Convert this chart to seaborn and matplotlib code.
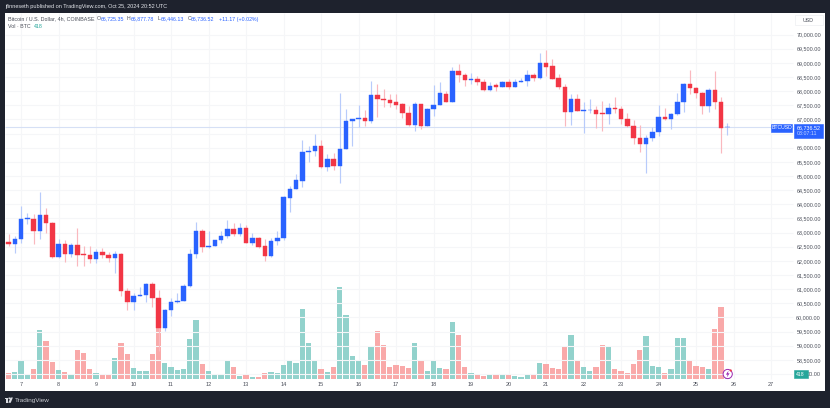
"""
plot.py
-------
BTCUSD 4h candles with volume, TradingView snapshot style.
"""

import numpy as np
import pandas as pd
import matplotlib
matplotlib.use("Agg")
import matplotlib.pyplot as plt
from matplotlib.patches import Circle, Polygon, Rectangle
import seaborn as sns

# ── Data ──────────────────────────────────────────────────────────────────────
open_px = [62684, 62602, 62779, 63480, 63497, 63073, 63615, 63344, 62154, 62590, 62260, 62578,
           62248, 62190, 62083, 62319, 62201, 62119, 62248, 60941, 60552, 60776, 60811, 61165,
           60705, 59633, 60246, 60529, 60599, 61105, 62237, 63061, 62484, 62519, 62720, 62885,
           63132, 62943, 63167, 62649, 62802, 62508, 62178, 62696, 62814, 64228, 64546, 64840,
           65830, 65889, 66054, 65335, 65606, 65347, 65960, 66949, 67008, 67055, 66926, 67856,
           67715, 67691, 67597, 67550, 67243, 66796, 67538, 66784, 67373, 67491, 67915, 67620,
           68704, 68575, 68386, 68410, 68315, 68033, 68198, 68162, 68327, 68150, 68327, 68374,
           68586, 68457, 68987, 68881, 68457, 68162, 67267, 67715, 67314, 67330, 67326, 67232,
           67196, 67408, 67361, 67008, 66772, 66348, 66113, 66360, 66572, 67102, 67020, 67173,
           67608, 68245, 68127, 67939, 67467, 68033, 67632, 66725]
high_px = [62955, 62885, 63956, 63697, 63662, 64451, 63874, 63367, 62779, 62743, 62637, 63179,
           62531, 62519, 62402, 62472, 62296, 62354, 62272, 61047, 60870, 61070, 61212, 61247,
           60953, 60305, 60694, 60858, 61200, 62402, 63379, 63132, 63038, 62743, 63050, 63462,
           63356, 63332, 63250, 62979, 62861, 62779, 62814, 63073, 64310, 64640, 65076, 66278,
           66042, 66478, 66289, 65783, 65795, 67927, 67350, 67020, 67526, 67326, 68363, 68268,
           68068, 67915, 67915, 67573, 67467, 67620, 67550, 67397, 68198, 68327, 67986, 68857,
           68975, 68657, 68645, 68516, 68433, 68315, 68292, 68351, 68410, 68410, 68457, 68728,
           68645, 69340, 69470, 69140, 68610, 68257, 67903, 67880, 67632, 67726, 67456, 67644,
           67585, 67774, 67467, 67232, 66961, 66819, 66466, 66725, 67526, 67385, 67232, 67927,
           68280, 68763, 68150, 67962, 68127, 68716, 67809, 66877]
low_px = [62519, 62272, 62625, 63297, 62590, 62790, 63002, 62095, 62119, 61954, 62142, 61836,
          61813, 61919, 61942, 62095, 61977, 61565, 60752, 60246, 60281, 60764, 60540, 60364,
          58832, 59504, 60034, 60517, 60588, 61070, 62095, 62307, 62460, 62508, 62625, 62814,
          62885, 62885, 62625, 62578, 62472, 62013, 62142, 62566, 62750, 63721, 64546, 64628,
          65488, 65700, 65288, 65170, 65229, 64746, 65959, 66077, 66714, 66749, 66890, 67102,
          67455, 67444, 67350, 67043, 66760, 66607, 66655, 66784, 67114, 67491, 67609, 67597,
          68339, 68174, 68268, 68209, 68021, 68021, 67997, 68139, 68068, 68139, 68315, 68186,
          68374, 68433, 68551, 68421, 68080, 66784, 66819, 67291, 66513, 67220, 66702, 66584,
          66843, 67220, 66831, 66725, 66124, 65842, 65123, 66219, 66419, 66984, 66643, 67149,
          67255, 67903, 67762, 67184, 67255, 67373, 65806, 66446]
close_px = [62602, 62779, 63485, 63500, 63073, 63615, 63332, 62154, 62590, 62260, 62578, 62225,
            62190, 62083, 62319, 62190, 62119, 62237, 60929, 60552, 60776, 60811, 61165, 60694,
            59633, 60258, 60540, 60599, 61117, 62237, 63061, 62484, 62531, 62720, 62885, 63132,
            62943, 63167, 62649, 62814, 62496, 62178, 62708, 62814, 64251, 64546, 64852, 65842,
            65889, 66054, 65335, 65606, 65347, 65971, 66949, 67020, 67055, 66926, 67856, 67703,
            67680, 67573, 67526, 67232, 66796, 67538, 66784, 67373, 67503, 67927, 67632, 68704,
            68563, 68386, 68421, 68315, 68033, 68186, 68162, 68327, 68150, 68327, 68374, 68575,
            68457, 68987, 68869, 68433, 68150, 67267, 67715, 67314, 67338, 67338, 67208, 67208,
            67408, 67361, 67000, 66760, 66325, 66113, 66360, 66572, 67102, 67008, 67173, 67620,
            68245, 68115, 67927, 67467, 68033, 67620, 66690, 66737]
volume = [500, 575, 1350, 375, 800, 3675, 2875, 1275, 675, 550, 325, 2200,
          1950, 750, 500, 300, 425, 1625, 2700, 1875, 875, 600, 625, 1925,
          4000, 1250, 950, 725, 800, 3025, 4425, 1175, 600, 325, 325, 1425,
          950, 250, 375, 150, 175, 500, 575, 475, 1075, 1375, 1250, 5275,
          2750, 1425, 800, 575, 900, 6900, 4825, 1750, 1450, 1050, 2475, 3600,
          2550, 950, 1050, 1000, 850, 2750, 1450, 625, 1350, 850, 750, 4275,
          3300, 900, 500, 300, 225, 325, 300, 300, 300, 250, 150, 400,
          325, 1250, 1175, 825, 775, 2400, 3350, 1375, 925, 625, 925, 2575,
          2425, 800, 600, 500, 1150, 2225, 3275, 975, 900, 500, 775, 3075,
          3100, 1350, 975, 950, 800, 3750, 5400, 418]

day_labels = [str(d) for d in range(7, 28)]
price_ticks = list(range(58000, 70001, 500))
last_price = 66736.52

# ── Colours ───────────────────────────────────────────────────────────────────
BG = "#1E222D"
BLUE = "#2962FF"
RED = "#F23645"
BLUE_WICK = "#B8CBFB"
RED_WICK = "#FAB8BE"
VOL_UP = "#92D2CC"
VOL_DOWN = "#F9A9A9"
GRID = "#F5F6F8"
TEXT = "#4A4E59"

W, H = 830, 408


def fx(px):
    return px / W


def fy(py):
    return 1 - py / H


sns.set_theme(style="white")
plt.rcParams["font.family"] = ["Liberation Sans", "DejaVu Sans"]

df = pd.DataFrame({"idx": np.arange(len(open_px)), "open": open_px, "high": high_px,
                   "low": low_px, "close": close_px, "volume": volume})
df["dir"] = np.where(df["close"] >= df["open"], "up", "down")

fig = plt.figure(figsize=(W / 100, H / 100), dpi=100, facecolor=BG)
ax_vol = fig.add_axes([fx(5), fy(391), fx(820), 378 / H], facecolor="white")

# ── Volume ────────────────────────────────────────────────────────────────────
sns.barplot(data=df, x="idx", y="volume", hue="dir", native_scale=True, dodge=False,
            palette={"up": VOL_UP, "down": VOL_DOWN}, width=0.86, saturation=1,
            errorbar=None, legend=False, linewidth=0, ax=ax_vol)
ax_vol.set_xlim(-0.56, 130.64)
ax_vol.set_ylim(-877, 27472)
ax_vol.set_xlabel("")
ax_vol.set_ylabel("")
ax_vol.set_yticks([])
day_ticks = [2 + 6 * k for k in range(len(day_labels))]
ax_vol.set_xticks(day_ticks, day_labels)
ax_vol.tick_params(axis="x", length=0, pad=-6.2, labelsize=4, labelcolor=TEXT)

# ── Candles ───────────────────────────────────────────────────────────────────
ax = ax_vol.twinx()
ax.set_ylim(57401, 70760)
ax.patch.set_visible(False)
# the price tags hide the 66,500 label and most of the 58,000 one, as in the snapshot
tick_text = {66500: "", 58000: "00.00"}
ax.set_yticks(price_ticks, [tick_text.get(p, f"{p:,.2f}") for p in price_ticks])
ax.tick_params(axis="y", length=0, pad=-2.9, labelsize=3.9, labelcolor=TEXT)
plt.setp(ax.get_yticklabels(), ha="right")

ax_vol.vlines(day_ticks, 0.031, 1, colors=GRID, lw=0.8, zorder=0,
              transform=ax_vol.get_xaxis_transform())
ax.hlines(price_ticks, 0, 0.961, colors=GRID, lw=0.8, zorder=0,
          transform=ax.get_yaxis_transform())
ax.hlines(last_price, 0, 0.961, colors="#D6E0F5", lw=0.8, zorder=1,
          transform=ax.get_yaxis_transform())

up = df["dir"] == "up"
ax.vlines(df["idx"], df["low"], df["high"], zorder=2, lw=0.85,
          colors=np.where(up, BLUE_WICK, RED_WICK))
ax.bar(df["idx"], df["close"] - df["open"], bottom=df["open"], width=0.72, zorder=3,
       color=np.where(up, BLUE, RED), edgecolor=np.where(up, BLUE, RED), linewidth=0.3)

for a in (ax_vol, ax):
    for spine in a.spines.values():
        spine.set_visible(False)


def tag(x0, y0, x1, y1, color, edge=None):
    fig.add_artist(Rectangle((fx(x0), fy(y1)), fx(x1 - x0), (y1 - y0) / H, facecolor=color,
                             edgecolor=edge or color, linewidth=0.4,
                             transform=fig.transFigure))


def label(px, py, s, color=TEXT, size=3.8, ha="left", **kw):
    fig.text(fx(px), fy(py), s, color=color, fontsize=size, ha=ha, va="center", **kw)


# ── Header and legend ─────────────────────────────────────────────────────────
label(5, 6.5, "jfinneseth published on TradingView.com, Oct 25, 2024 20:52 UTC",
      color="#E4E6EB", size=3.95)
label(8, 19, "Bitcoin / U.S. Dollar, 4h, COINBASE", size=3.85)
for px, letter, val_px, val in [(97, "O", 100.5, "66,725.35"), (127, "H", 130.5, "66,877.78"),
                                (158, "L", 161, "66,446.13"), (188, "C", 191, "66,736.52")]:
    label(px, 19, letter)
    label(val_px, 19, val, color=BLUE)
label(219, 19, "+11.17 (+0.02%)", color=BLUE)
label(8, 27, "Vol · BTC")
label(34, 27, "418", color="#26A69A")

# ── Right axis tags ───────────────────────────────────────────────────────────
tag(795, 15, 823, 25, "white", edge="#E8EAEE")
label(803, 20, "USD", size=3.8)
tag(771, 124, 792, 131.5, BLUE)
label(781.5, 127.8, "BTCUSD", color="white", ha="center", size=3.7)
tag(793.5, 123.5, 822.5, 138, BLUE)
label(797, 127.5, "66,736.52", color="white", size=3.9)
label(797, 133.6, "03:07:11", color="#C5D5FF", size=3.8)
tag(793.5, 370.3, 807.5, 377.5, "#26A69A")
label(800.5, 374, "418", color="white", ha="center", size=3.7)

# ── Lightning marker ──────────────────────────────────────────────────────────
fig.add_artist(Circle((727.7, H - 374), 4.6, facecolor="white", edgecolor="#9C27B0", linewidth=0.7,
                      transform=None))
fig.add_artist(Polygon([(728.6, H - 370.5), (725.9, H - 374.6), (727.6, H - 374.6),
                        (726.8, H - 377.5), (729.6, H - 373.3), (727.9, H - 373.3)],
                       closed=True, facecolor="#9C27B0", edgecolor="none", transform=None))
fig.add_artist(Circle((730.7, H - 370.5), 1.1, facecolor="#F23645", edgecolor="none", transform=None))

# ── TradingView logo ──────────────────────────────────────────────────────────
for pts in ([(4.5, 397.5), (8.2, 397.5), (8.2, 402.8), (6.3, 402.8), (6.3, 399.2), (4.5, 399.2)],
            [(10.5, 397.5), (12.9, 397.5), (10.7, 402.8), (8.3, 402.8)]):
    fig.add_artist(Polygon([(x, H - y) for x, y in pts], closed=True, facecolor="#D8DAE0",
                           edgecolor="none", transform=None))
fig.add_artist(Circle((9.3, H - 398.3), 0.9, facecolor="#D8DAE0", edgecolor="none", transform=None))
label(15, 400.2, "TradingView", color="#C8CAD0", size=4.6)

fig.savefig("out.png", dpi=100, facecolor=BG)
